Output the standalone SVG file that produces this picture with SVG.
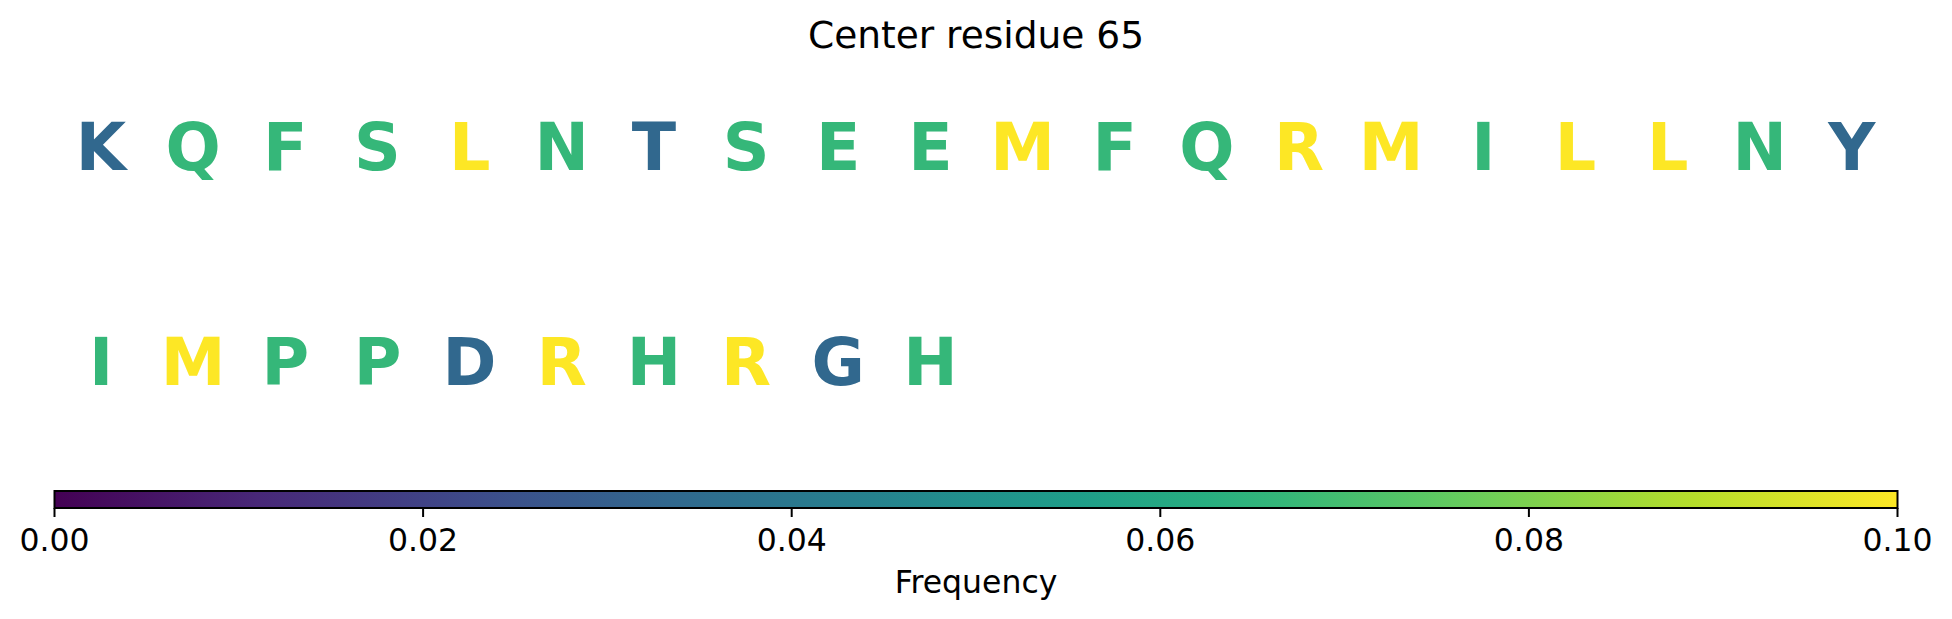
<svg xmlns="http://www.w3.org/2000/svg" width="1952" height="619" viewBox="0 0 1952 619">
<style>
text{font-family:"DejaVu Sans","Liberation Sans",sans-serif;}
.t{font-size:37.5px;fill:#000;text-anchor:middle;}
.l{font-size:65px;font-weight:bold;text-anchor:middle;}
.b{fill:#31688e;}
.g{fill:#35b779;}
.y{fill:#fde725;}
.tk{font-size:31.5px;fill:#000;text-anchor:middle;}
.tm{stroke:#000;stroke-width:2;}
</style>
<defs>
<linearGradient id="viridis" x1="0" y1="0" x2="1" y2="0">
<stop offset="0" stop-color="#440154"/>
<stop offset="0.1111" stop-color="#482878"/>
<stop offset="0.2222" stop-color="#3e4989"/>
<stop offset="0.25" stop-color="#3b528b"/>
<stop offset="0.3333" stop-color="#31688e"/>
<stop offset="0.375" stop-color="#2c728e"/>
<stop offset="0.4444" stop-color="#26828e"/>
<stop offset="0.5" stop-color="#21918c"/>
<stop offset="0.5556" stop-color="#1f9e89"/>
<stop offset="0.625" stop-color="#28ae80"/>
<stop offset="0.6667" stop-color="#35b779"/>
<stop offset="0.75" stop-color="#5ec962"/>
<stop offset="0.7778" stop-color="#6ece58"/>
<stop offset="0.875" stop-color="#addc30"/>
<stop offset="0.8889" stop-color="#b5de2b"/>
<stop offset="1" stop-color="#fde725"/>
</linearGradient>
</defs>
<rect width="1952" height="619" fill="#fff"/>
<text class="t" x="976" y="48">Center residue 65</text>
<g id="row1" class="l">
<text class="b" x="101" y="170">K</text>
<text class="g" x="193.2" y="170">Q</text>
<text class="g" x="285.3" y="170">F</text>
<text class="g" x="377.5" y="170">S</text>
<text class="y" x="469.6" y="170">L</text>
<text class="g" x="561.8" y="170">N</text>
<text class="b" x="653.9" y="170">T</text>
<text class="g" x="746.1" y="170">S</text>
<text class="g" x="838.2" y="170">E</text>
<text class="g" x="930.4" y="170">E</text>
<text class="y" x="1022.5" y="170">M</text>
<text class="g" x="1114.7" y="170">F</text>
<text class="g" x="1206.8" y="170">Q</text>
<text class="y" x="1299" y="170">R</text>
<text class="y" x="1391.1" y="170">M</text>
<text class="g" x="1483.3" y="170">I</text>
<text class="y" x="1575.4" y="170">L</text>
<text class="y" x="1667.6" y="170">L</text>
<text class="g" x="1759.7" y="170">N</text>
<text class="b" x="1851.9" y="170">Y</text>
</g>
<g id="row2" class="l">
<text class="g" x="101" y="385">I</text>
<text class="y" x="193.2" y="385">M</text>
<text class="g" x="285.3" y="385">P</text>
<text class="g" x="377.5" y="385">P</text>
<text class="b" x="469.6" y="385">D</text>
<text class="y" x="561.8" y="385">R</text>
<text class="g" x="653.9" y="385">H</text>
<text class="y" x="746.1" y="385">R</text>
<text class="b" x="838.2" y="385">G</text>
<text class="g" x="930.4" y="385">H</text>
</g>
<g id="colorbar">
<rect x="54.5" y="491" width="1843" height="17" fill="url(#viridis)" stroke="#000" stroke-width="2"/>
<line class="tm" x1="54.5" y1="508" x2="54.5" y2="517"/>
<line class="tm" x1="423.1" y1="508" x2="423.1" y2="517"/>
<line class="tm" x1="791.7" y1="508" x2="791.7" y2="517"/>
<line class="tm" x1="1160.3" y1="508" x2="1160.3" y2="517"/>
<line class="tm" x1="1528.9" y1="508" x2="1528.9" y2="517"/>
<line class="tm" x1="1897.5" y1="508" x2="1897.5" y2="517"/>
<text class="tk" x="54.5" y="551">0.00</text>
<text class="tk" x="423.1" y="551">0.02</text>
<text class="tk" x="791.7" y="551">0.04</text>
<text class="tk" x="1160.3" y="551">0.06</text>
<text class="tk" x="1528.9" y="551">0.08</text>
<text class="tk" x="1897.5" y="551">0.10</text>
<text class="tk" x="976" y="593">Frequency</text>
</g>
</svg>
